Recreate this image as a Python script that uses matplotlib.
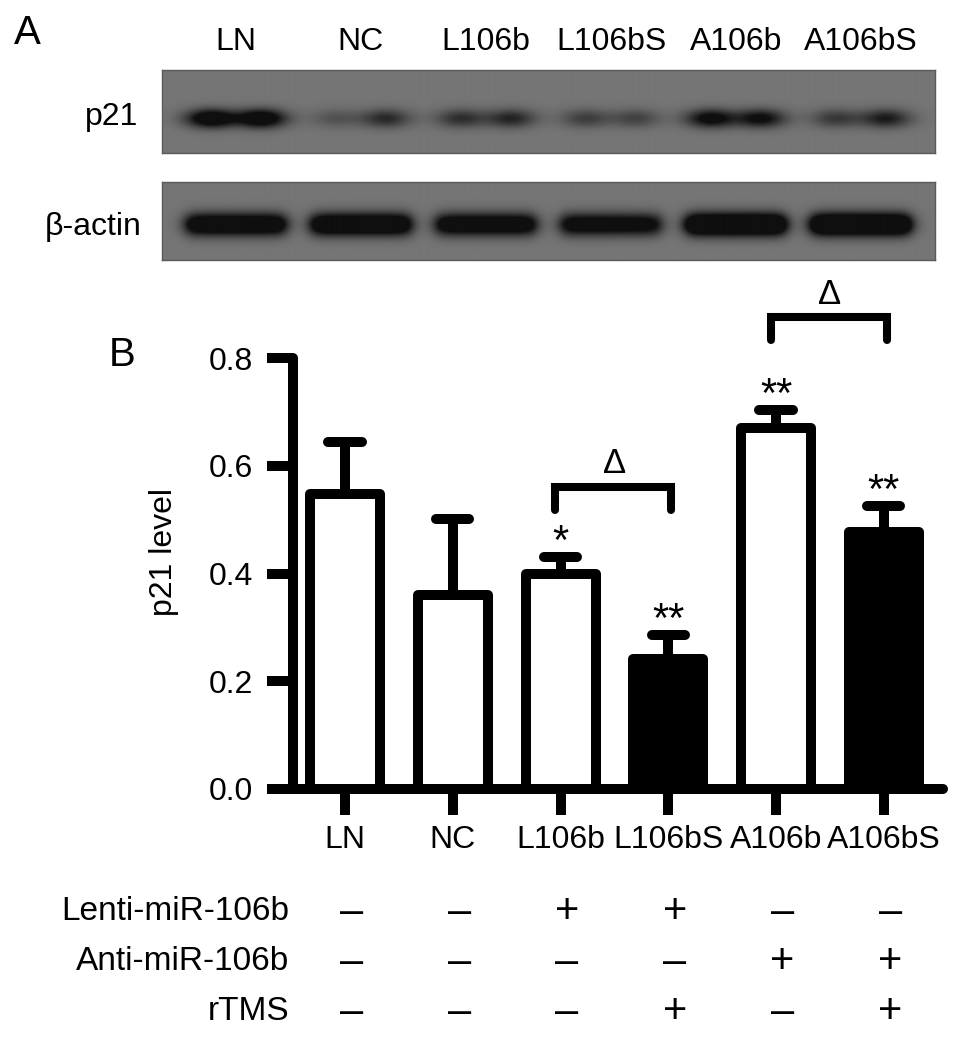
import numpy as np
import matplotlib
matplotlib.use("Agg")
from matplotlib import pyplot as plt
from matplotlib import transforms

plt.rcParams['font.family'] = ['Liberation Sans', 'DejaVu Sans']

# data
groups = ["LN", "NC", "L106b", "L106bS", "A106b", "A106bS"]
p21_mean = [0.547, 0.361, 0.399, 0.241, 0.670, 0.477]
p21_sem = [0.098, 0.140, 0.032, 0.045, 0.033, 0.048]
filled = [False, False, False, True, False, True]
stars = ["", "", "*", "**", "**", "**"]
delta_pairs = [(2, 3), (4, 5)]
delta_level = [0.561, 0.876]

row_names = ["Lenti-miR-106b", "Anti-miR-106b", "rTMS"]
lenti = ["–", "–", "+", "+", "–", "–"]
anti = ["–", "–", "–", "–", "+", "+"]
rtms = ["–", "–", "–", "+", "–", "+"]

# western blot band darkness (left half, right half of each lane)
p21_left = [1.5, 0.35, 0.7, 0.55, 1.2, 0.6]
p21_right = [1.5, 0.75, 0.8, 0.5, 1.1, 0.9]
actin_left = [1.6, 1.7, 1.5, 1.4, 2.0, 2.0]
actin_right = [1.6, 1.7, 1.5, 1.3, 2.0, 2.0]

fig = plt.figure(figsize=(9.69, 10.37), dpi=100)
W, H = 969.0, 1037.0

# ---------- Panel A: blot strips ----------
lo, hi = -0.59, 5.59
def blot(rect, left, right, yc, sy, npx, flat):
    bx = fig.add_axes(rect)
    xs = np.linspace(lo, hi, 800)
    ys = np.arange(npx)
    dark = np.zeros((npx, xs.size))
    for i in range(len(left)):
        if flat:
            t = np.clip((xs - i + 0.4) / 0.8, 0, 1)
            lev = left[i] + (right[i] - left[i]) * t
            prof = lev / (1 + np.exp((np.abs(xs - i) - 0.40) / 0.035))
        else:
            prof = (left[i] * np.exp(-0.5 * ((xs - (i - 0.2)) / 0.14) ** 2)
                    + right[i] * np.exp(-0.5 * ((xs - (i + 0.2)) / 0.14) ** 2))
        dark += np.outer(np.exp(-0.5 * ((ys - yc) / sy) ** 2), prof)
    img = 0.46 - 0.40 * np.clip(dark, 0, 1)
    bx.imshow(img, cmap='gray', vmin=0, vmax=1, extent=(lo, hi, npx, 0),
              aspect='auto', interpolation='bilinear')
    bx.set_xlim(lo, hi)
    bx.set_xticks([])
    bx.set_yticks([])
    for s in bx.spines.values():
        s.set_color('#5a5a5a')
        s.set_linewidth(1)
    return bx

bp = blot([162 / W, 1 - 153 / H, 773 / W, 83 / H], p21_left, p21_right, 48, 6.5, 83, False)
ba = blot([162 / W, 1 - 260 / H, 773 / W, 78 / H], actin_left, actin_right, 42, 8.0, 78, True)

tb = transforms.blended_transform_factory(bp.transData, fig.transFigure)
for i, g in enumerate(groups):
    bp.text(i, 1 - 42 / H, g, transform=tb, ha='center', va='center', fontsize=23)
fig.text(138 / W, 1 - 117 / H, "p21", ha='right', va='center', fontsize=23)
fig.text(142 / W, 1 - 227 / H, "β-actin", ha='right', va='center', fontsize=23)
fig.text(27 / W, 1 - 33 / H, "A", ha='center', va='center', fontsize=29)

# ---------- Panel B: bar chart ----------
ax = fig.add_axes([293 / W, 1 - 789 / H, 650 / W, 431 / H])
x = np.arange(len(groups))
lw = 7.2
ax.bar(x, p21_mean, width=0.65, color=['black' if f else 'white' for f in filled],
       edgecolor='black', linewidth=lw, joinstyle='round', zorder=3)
tops = np.array(p21_mean) + np.array(p21_sem)
ax.vlines(x, p21_mean, tops, color='black', lw=lw, zorder=2)
ax.hlines(tops, x - 0.155, x + 0.155, color='black', lw=lw, capstyle='round',
          zorder=2, clip_on=False)

for i, s in enumerate(stars):
    if s:
        ax.text(x[i], tops[i] + 0.006, s, ha='center', va='baseline', fontsize=30)

for (a, b), h in zip(delta_pairs, delta_level):
    ax.plot([a - 0.05, a - 0.05, b + 0.03, b + 0.03], [h - 0.043, h, h, h - 0.043],
            color='black', lw=5.8, solid_capstyle='round', solid_joinstyle='miter',
            clip_on=False)
    ax.text((a + b) / 2, h + 0.025, "Δ", ha='center', va='baseline', fontsize=25)

ax.set_xlim(-0.483, 5.55)
ax.set_ylim(0, 0.8)
ax.set_yticks([0, 0.2, 0.4, 0.6, 0.8])
ax.set_yticklabels(["0.0", "0.2", "0.4", "0.6", "0.8"])
ax.set_xticks(x)
ax.set_xticklabels(groups)
ax.tick_params(axis='both', direction='out', length=18.7, width=lw)
ax.tick_params(axis='y', pad=10, labelsize=23)
ax.tick_params(axis='x', pad=7, labelsize=23)
for side in ['top', 'right']:
    ax.spines[side].set_visible(False)
for side in ['left', 'bottom']:
    ax.spines[side].set_linewidth(lw)
    ax.spines[side].set_capstyle('round')
ax.set_ylabel("p21 level", fontsize=23)
ax.yaxis.set_label_coords(-0.175, 0.55)
fig.text(122 / W, 1 - 355 / H, "B", ha='center', va='center', fontsize=29)

# treatment table
tt = transforms.blended_transform_factory(ax.transData, fig.transFigure)
rows = [lenti, anti, rtms]
row_y = [912, 962, 1012]
for name, marks, yy in zip(row_names, rows, row_y):
    fig.text(289 / W, 1 - yy / H, name, ha='right', va='center', fontsize=24)
    for i, m in enumerate(marks):
        ax.text(x[i] + 0.06, 1 - yy / H, m, transform=tt, ha='center', va='center',
                fontsize=30)

fig.savefig("out.png", dpi=100)
